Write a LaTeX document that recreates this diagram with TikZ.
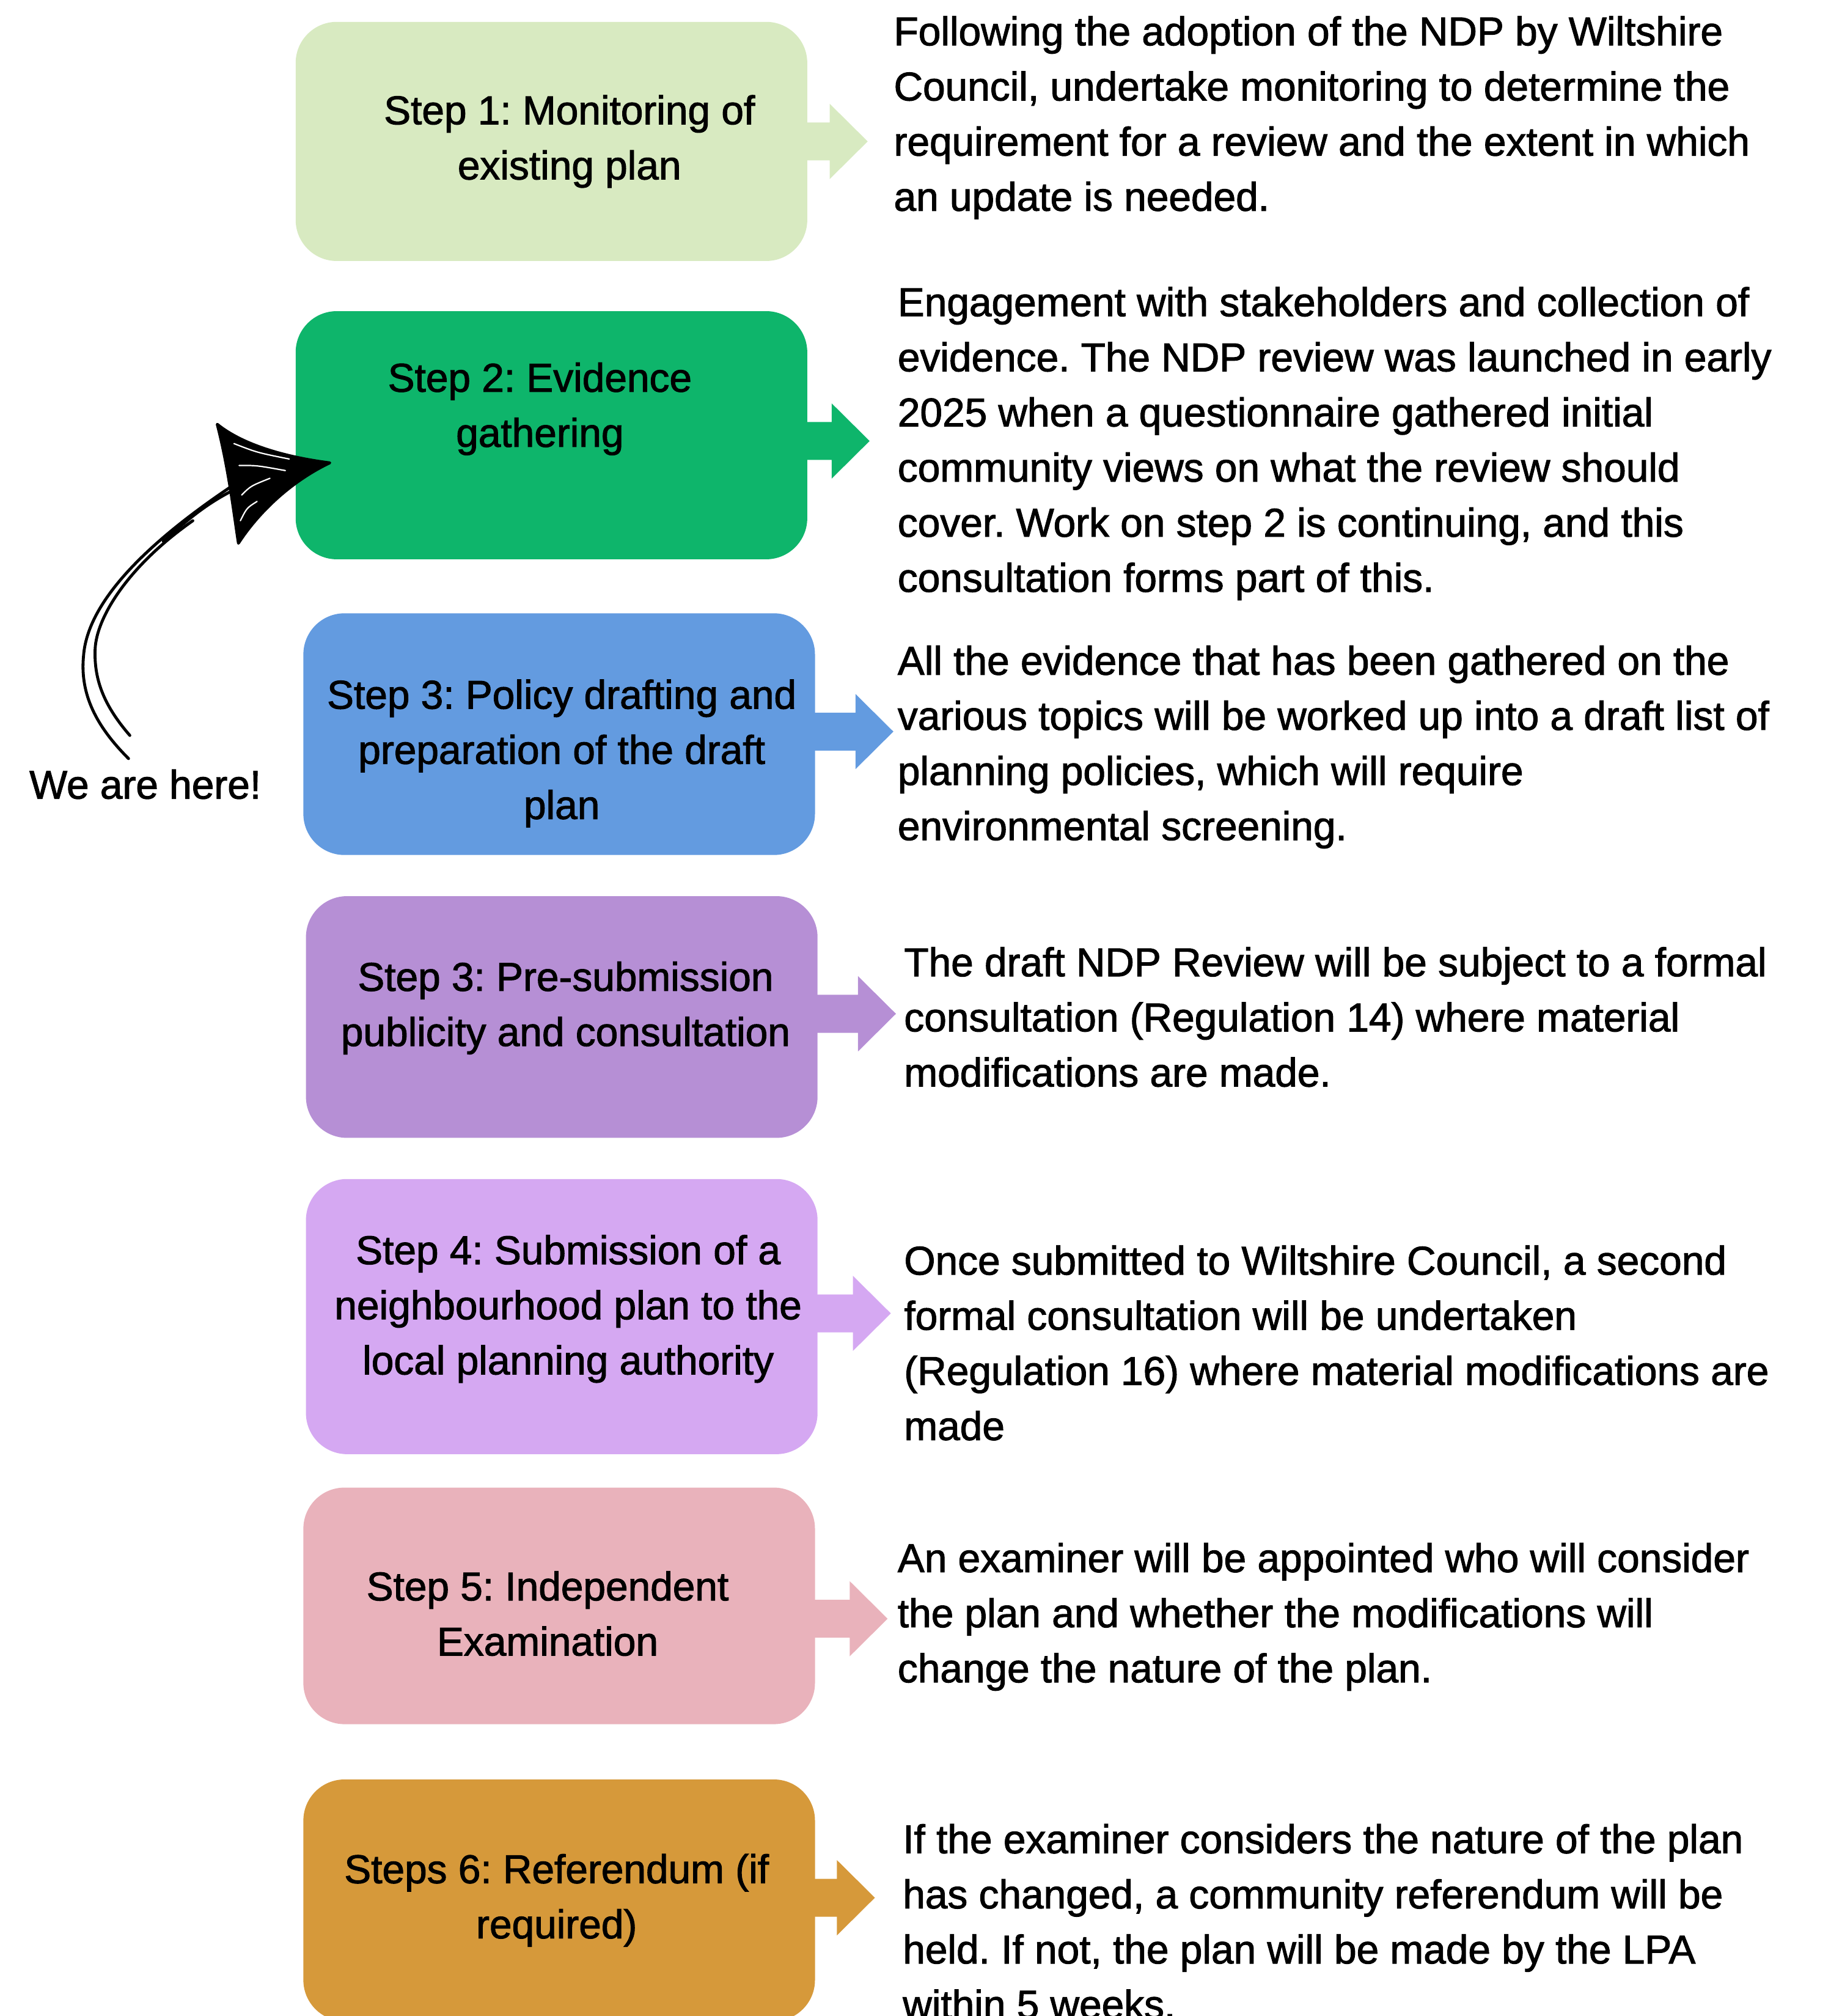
\documentclass[tikz,border=0pt]{standalone}
\usepackage{fontspec}
\setmainfont{Liberation Sans}[FakeBold=1.6]
\usetikzlibrary{calc}
\frenchspacing

\definecolor{colone}{RGB}{216,234,193}
\definecolor{coltwo}{RGB}{14,181,107}
\definecolor{colthree}{RGB}{99,155,224}
\definecolor{colfour}{RGB}{182,143,213}
\definecolor{colfive}{RGB}{213,168,242}
\definecolor{colsix}{RGB}{233,178,187}
\definecolor{colseven}{RGB}{214,153,58}

\newdimen\px \px=0.2mm

\tikzset{
stepbox/.style={rectangle, rounded corners=32\px, minimum width=398\px, inner sep=0pt},
steptext/.style={align=center, inner sep=0pt, font=\fontsize{17.8}{24.4}\selectfont},
notetext/.style={align=left, anchor=west, inner sep=0pt, font=\fontsize{17.8}{24.4}\selectfont},
handline/.style={line width=1.3pt, line cap=round, line join=round}
}

% fat arrow: colour, box, tip
\newcommand{\steparrow}[3]{%
\fill[#1] (#3) -- ++(-29.5,-29.25) -- ++(0,14.5) -- ($(#2.east|-#3)+(-2,-14.75)$)
 -- ++(0,29.5) -- ($(#3)+(-29.5,14.75)$) -- ++(0,14.5) -- cycle;}

\begin{document}
\begin{tikzpicture}[x=0.2mm,y=-0.2mm]
\useasboundingbox (0,0) rectangle (1424,1568);
\path
(429,110) node[stepbox,fill=colone,minimum height=186\px] (box1) {}
(429,338.5) node[stepbox,fill=coltwo,minimum height=193\px] (box2) {}
(435,571) node[stepbox,fill=colthree,minimum height=188\px] (box3) {}
(437,791) node[stepbox,fill=colfour,minimum height=188\px] (box4) {}
(437,1024) node[stepbox,fill=colfive,minimum height=214\px] (box5) {}
(435,1249) node[stepbox,fill=colsix,minimum height=184\px] (box6) {}
(435,1478) node[stepbox,fill=colseven,minimum height=188\px] (box7) {};

\path
(443,110) node[steptext] (step1) {Step 1: Monitoring of\\existing plan}
(420,318) node[steptext] (step2) {Step 2: Evidence\\gathering}
(437,586) node[steptext] (step3) {Step 3: Policy drafting and\\preparation of the draft\\plan}
(440,784) node[steptext] (step4) {Step 3: Pre-submission\\publicity and consultation}
(442,1018) node[steptext] (step5) {Step 4: Submission of a\\neighbourhood plan to the\\local planning authority}
(426,1255) node[steptext] (step6) {Step 5: Independent\\Examination}
(433,1478) node[steptext] (step7) {Steps 6: Referendum (if\\required)};

\coordinate (tip1) at (675,110);
\coordinate (tip2) at (676.5,343);
\coordinate (tip3) at (695,569);
\coordinate (tip4) at (697,788.5);
\coordinate (tip5) at (693,1021.5);
\coordinate (tip6) at (690.5,1259);
\coordinate (tip7) at (680.6,1476);
\steparrow{colone}{box1}{tip1}
\steparrow{coltwo}{box2}{tip2}
\steparrow{colthree}{box3}{tip3}
\steparrow{colfour}{box4}{tip4}
\steparrow{colfive}{box5}{tip5}
\steparrow{colsix}{box6}{tip6}
\steparrow{colseven}{box7}{tip7}

\path
(695,91.5) node[notetext] (note1) {Following the adoption of the NDP by Wiltshire\\Council, undertake monitoring to determine the\\requirement for a review and the extent in which\\an update is needed.}
(698,345) node[notetext] (note2) {Engagement with stakeholders and collection of\\evidence. The NDP review was launched in early\\2025 when a questionnaire gathered initial\\community views on what the review should\\cover. Work on step 2 is continuing, and this\\consultation forms part of this.}
(698,581) node[notetext] (note3) {All the evidence that has been gathered on the\\various topics will be worked up into a draft list of\\planning policies, which will require\\environmental screening.}
(703,791) node[notetext] (note4) {The draft NDP Review will be subject to a formal\\consultation (Regulation 14) where material\\modifications are made.}
(703,1044.5) node[notetext] (note5) {Once submitted to Wiltshire Council, a second\\formal consultation will be undertaken\\(Regulation 16) where material modifications are\\made}
(698,1257.5) node[notetext] (note6) {An examiner will be appointed who will consider\\the plan and whether the modifications will\\change the nature of the plan.}
(702,1494.5) node[notetext] (note7) {If the examiner considers the nature of the plan\\has changed, a community referendum will be\\held. If not, the plan will be made by the LPA\\within 5 weeks.};

% hand drawn pointer
\node[steptext] (here) at (113,610) {We are here!};
\coordinate (tail) at (100,590);
\coordinate (tail2) at (101,572);
\coordinate (neck) at (182,377);
\coordinate (pin) at (256.5,360);
\draw[handline] (tail) .. controls (75,565) and (62,540) .. (65,510)
 .. controls (68,470) and (110,425) .. (neck);
\draw[handline] (tail2) .. controls (82,550) and (73,530) .. (74,505)
 .. controls (75,480) and (100,440) .. (150,405);
\draw[handline] (127,421) .. controls (145,405) and (160,392) .. (182,381);
\filldraw[handline] (169,330) .. controls (190,347) and (225,356) .. (pin)
 .. controls (225,375) and (200,400) .. (185.5,422.5)
 .. controls (182,400) and (178,365) .. cycle;
%\draw[white,line width=.5pt] (180,342) -- (230,358);
\draw[white,line width=.6pt,line cap=round] (182,345) .. controls (200,352) .. (225,357)
 (186,362) .. controls (200,362) .. (222,366) (188,385) .. controls (195,378) .. (210,372)
 (187,405) .. controls (192,395) .. (200,390);
\end{tikzpicture}
\end{document}
